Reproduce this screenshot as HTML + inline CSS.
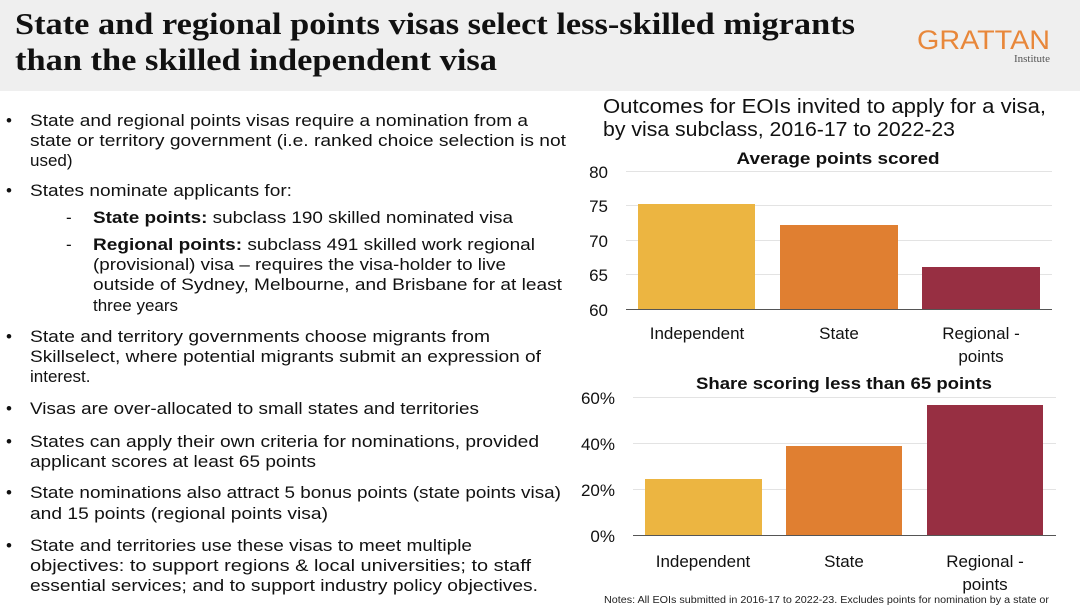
<!DOCTYPE html>
<html><head><meta charset="utf-8"><style>
html,body{margin:0;padding:0;background:#fff}
svg{display:block}
text{font-family:"Liberation Sans",sans-serif;fill:#111}
.b{font-size:17px}
.ax{font-size:17px;fill:#222}
</style></head><body>
<svg width="1080" height="605" viewBox="0 0 1080 605" xmlns="http://www.w3.org/2000/svg">
<rect x="0" y="0" width="1080" height="91" fill="#efefef"/>
<text x="15" y="34" style="font-family:'Liberation Serif',serif;font-weight:bold;font-size:31px" textLength="840" lengthAdjust="spacingAndGlyphs">State and regional points visas select less-skilled migrants</text>
<text x="15" y="70" style="font-family:'Liberation Serif',serif;font-weight:bold;font-size:31px" textLength="482" lengthAdjust="spacingAndGlyphs">than the skilled independent visa</text>
<text x="917" y="49" style="font-size:27px;fill:#e8873a" textLength="133" lengthAdjust="spacingAndGlyphs">GRATTAN</text>
<text x="1050" y="62" text-anchor="end" style="font-family:'Liberation Serif',serif;font-size:11px;fill:#555">Institute</text>

<g class="b">
<text x="6" y="126">•</text><text x="30" y="126" class="b" textLength="498" lengthAdjust="spacingAndGlyphs">State and regional points visas require a nomination from a</text>
<text x="30" y="146" class="b" textLength="536" lengthAdjust="spacingAndGlyphs">state or territory government (i.e. ranked choice selection is not</text>
<text x="30" y="166" class="b">used)</text>
<text x="6" y="196">•</text><text x="30" y="196" class="b" textLength="262" lengthAdjust="spacingAndGlyphs">States nominate applicants for:</text>
<text x="66" y="223" class="b">-</text><text x="93" y="223" class="b" textLength="420" lengthAdjust="spacingAndGlyphs"><tspan font-weight="bold">State points:</tspan> subclass 190 skilled nominated visa</text>
<text x="66" y="250" class="b">-</text><text x="93" y="250" class="b" textLength="442" lengthAdjust="spacingAndGlyphs"><tspan font-weight="bold">Regional points:</tspan> subclass 491 skilled work regional</text>
<text x="93" y="270" class="b" textLength="413" lengthAdjust="spacingAndGlyphs">(provisional) visa – requires the visa-holder to live</text>
<text x="93" y="290" class="b" textLength="469" lengthAdjust="spacingAndGlyphs">outside of Sydney, Melbourne, and Brisbane for at least</text>
<text x="93" y="311" class="b">three years</text>
<text x="6" y="342">•</text><text x="30" y="342" class="b" textLength="460" lengthAdjust="spacingAndGlyphs">State and territory governments choose migrants from</text>
<text x="30" y="362" class="b" textLength="511" lengthAdjust="spacingAndGlyphs">Skillselect, where potential migrants submit an expression of</text>
<text x="30" y="382" class="b">interest.</text>
<text x="6" y="414">•</text><text x="30" y="414" class="b" textLength="449" lengthAdjust="spacingAndGlyphs">Visas are over-allocated to small states and territories</text>
<text x="6" y="447">•</text><text x="30" y="447" class="b" textLength="509" lengthAdjust="spacingAndGlyphs">States can apply their own criteria for nominations, provided</text>
<text x="30" y="467" class="b" textLength="286" lengthAdjust="spacingAndGlyphs">applicant scores at least 65 points</text>
<text x="6" y="498">•</text><text x="30" y="498" class="b" textLength="531" lengthAdjust="spacingAndGlyphs">State nominations also attract 5 bonus points (state points visa)</text>
<text x="30" y="519" class="b" textLength="298" lengthAdjust="spacingAndGlyphs">and 15 points (regional points visa)</text>
<text x="6" y="551">•</text><text x="30" y="551" class="b" textLength="442" lengthAdjust="spacingAndGlyphs">State and territories use these visas to meet multiple</text>
<text x="30" y="571" class="b" textLength="501" lengthAdjust="spacingAndGlyphs">objectives: to support regions &amp; local universities; to staff</text>
<text x="30" y="591" class="b" textLength="508" lengthAdjust="spacingAndGlyphs">essential services; and to support industry policy objectives.</text>
</g>

<text x="603" y="113" style="font-size:20px" textLength="443" lengthAdjust="spacingAndGlyphs">Outcomes for EOIs invited to apply for a visa,</text>
<text x="603" y="136" style="font-size:20px" textLength="352" lengthAdjust="spacingAndGlyphs">by visa subclass, 2016-17 to 2022-23</text>

<!-- chart 1 -->
<text x="838" y="164" text-anchor="middle" style="font-size:17px;font-weight:bold" textLength="203" lengthAdjust="spacingAndGlyphs">Average points scored</text>
<g stroke="#e3e3e3" stroke-width="1">
<line x1="626" y1="171.5" x2="1052" y2="171.5"/><line x1="626" y1="205.5" x2="1052" y2="205.5"/>
<line x1="626" y1="240.5" x2="1052" y2="240.5"/><line x1="626" y1="274.5" x2="1052" y2="274.5"/>
</g>
<rect x="638" y="204" width="117" height="105" fill="#ecb541"/>
<rect x="780" y="225" width="118" height="84" fill="#e07f31"/>
<rect x="922" y="267" width="118" height="42" fill="#972f42"/>
<line x1="626" y1="309.5" x2="1052" y2="309.5" stroke="#555" stroke-width="1"/>
<g class="ax" text-anchor="end">
<text x="608" y="178">80</text><text x="608" y="212">75</text><text x="608" y="247">70</text><text x="608" y="281">65</text><text x="608" y="316">60</text>
</g>
<g class="ax" text-anchor="middle">
<text x="697" y="339">Independent</text><text x="839" y="339">State</text><text x="981" y="339">Regional -</text><text x="981" y="362">points</text>
</g>

<!-- chart 2 -->
<text x="844" y="389" text-anchor="middle" style="font-size:17px;font-weight:bold" textLength="296" lengthAdjust="spacingAndGlyphs">Share scoring less than 65 points</text>
<g stroke="#e3e3e3" stroke-width="1">
<line x1="633" y1="397.5" x2="1056" y2="397.5"/><line x1="633" y1="443.5" x2="1056" y2="443.5"/><line x1="633" y1="489.5" x2="1056" y2="489.5"/>
</g>
<rect x="645" y="479" width="117" height="56" fill="#ecb541"/>
<rect x="786" y="446" width="116" height="89" fill="#e07f31"/>
<rect x="927" y="405" width="116" height="130" fill="#972f42"/>
<line x1="633" y1="535.5" x2="1056" y2="535.5" stroke="#555" stroke-width="1"/>
<g class="ax" text-anchor="end">
<text x="615" y="404">60%</text><text x="615" y="450">40%</text><text x="615" y="496">20%</text><text x="615" y="542">0%</text>
</g>
<g class="ax" text-anchor="middle">
<text x="703" y="567">Independent</text><text x="844" y="567">State</text><text x="985" y="567">Regional -</text><text x="985" y="590">points</text>
</g>
<text x="604" y="603" style="font-size:10px;fill:#222" textLength="445" lengthAdjust="spacingAndGlyphs">Notes: All EOIs submitted in 2016-17 to 2022-23. Excludes points for nomination by a state or</text>
</svg>
</body></html>
